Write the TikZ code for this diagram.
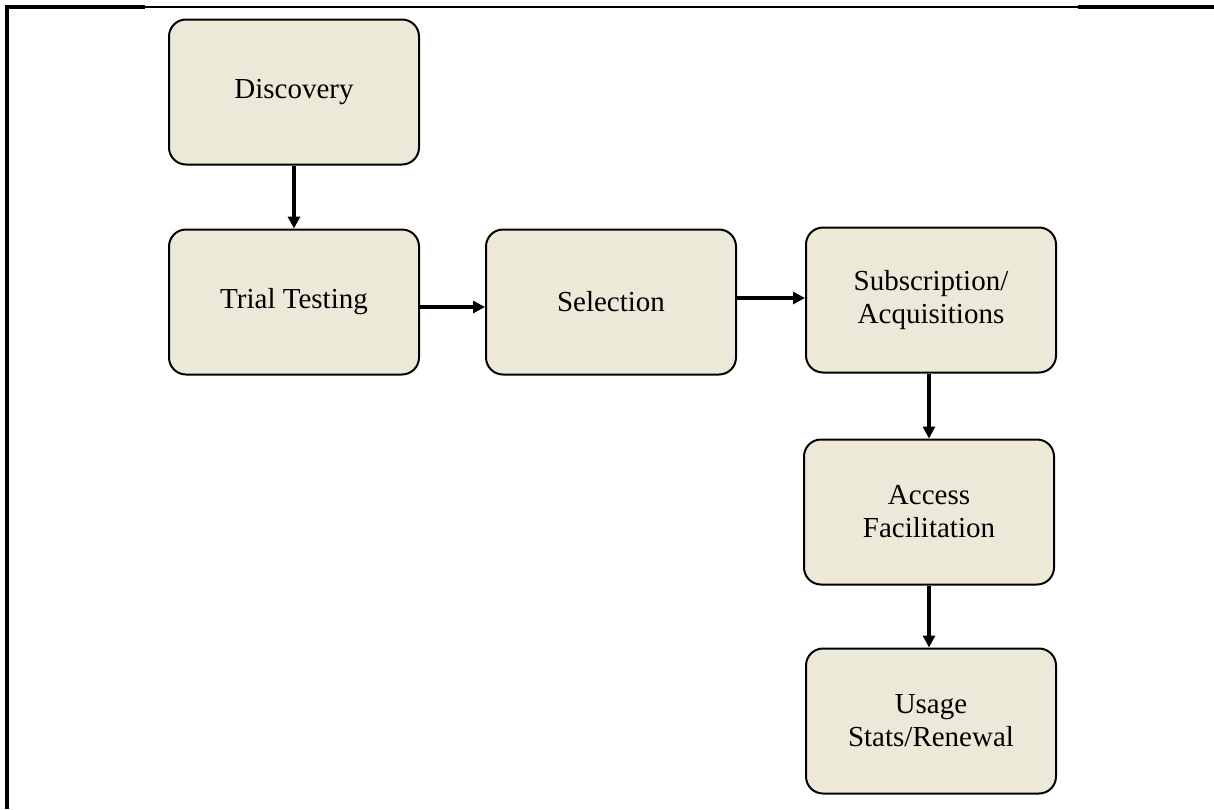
\documentclass[tikz,border=0pt]{standalone}
\usepackage{fontspec}
\setmainfont{Liberation Serif}
\usetikzlibrary{arrows.meta}
\definecolor{boxfill}{HTML}{ECE9D8}
\begin{document}
\begin{tikzpicture}[x=0.5pt,y=-0.5pt,
  stage/.style={draw,line width=1pt,fill=boxfill,rounded corners=8.5pt,minimum width=125pt,minimum height=72.5pt,align=center,font=\fontsize{14.5}{16.5}\selectfont,inner sep=0pt},
  flow/.style={-{Triangle[length=6pt,width=6pt]},line width=1.8pt}]
\useasboundingbox (0,0) rectangle (1214,809);
\draw[line width=1.6pt] (7,809) -- (7,7) -- (145,7);
\draw[line width=0.7pt] (145,7) -- (1078,7);
\draw[line width=1.6pt] (1078,7) -- (1214,7);
\node[stage] (disc) at (294,92) {Discovery};
\node[stage] (trial) at (294,302) {Trial Testing};
\node[stage] (sel) at (611,302) {Selection};
\node[stage] (sub) at (931,300) {Subscription/\\Acquisitions};
\node[stage] (acc) at (929,512) {Access\\Facilitation};
\node[stage] (use) at (931,721) {Usage\\Stats/Renewal};
\draw[flow] (disc.south) -- (trial.north);
\draw[flow] ([yshift=-2.5pt]trial.east) -- ([yshift=-2.5pt]sel.west);
\draw[flow] ([yshift=2pt]sel.east) -- ([yshift=1pt]sub.west);
\draw[flow] ([xshift=-1pt]sub.south) -- (acc.north);
\draw[flow] (acc.south) -- ([xshift=-1pt]use.north);
\end{tikzpicture}
\end{document}
